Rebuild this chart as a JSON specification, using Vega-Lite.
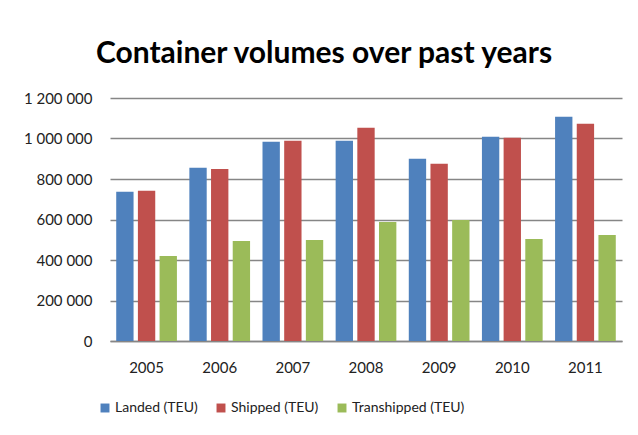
{
  "$schema": "https://vega.github.io/schema/vega-lite/v6.json",
  "width": 512,
  "height": 243,
  "autosize": {"type": "none"},
  "padding": {"left": 110, "top": 98, "right": 16, "bottom": 94},
  "background": "white",
  "config": {
    "locale": {"number": {"decimal": ",", "thousands": " ", "grouping": [3], "currency": ["", ""]}},
    "font": "Lato",
    "view": {"stroke": null}
  },
  "title": {
    "text": "Container volumes over past years",
    "font": "Lato",
    "fontSize": 30,
    "fontWeight": "bold",
    "color": "black",
    "anchor": "middle",
    "frame": "group",
    "dx": -42,
    "offset": 22
  },
  "data": {
    "values": [
      {"year": "2005", "series": "Landed (TEU)", "teu": 737000},
      {"year": "2005", "series": "Shipped (TEU)", "teu": 742000},
      {"year": "2005", "series": "Transhipped (TEU)", "teu": 420000},
      {"year": "2006", "series": "Landed (TEU)", "teu": 855000},
      {"year": "2006", "series": "Shipped (TEU)", "teu": 850000},
      {"year": "2006", "series": "Transhipped (TEU)", "teu": 494000},
      {"year": "2007", "series": "Landed (TEU)", "teu": 984000},
      {"year": "2007", "series": "Shipped (TEU)", "teu": 989000},
      {"year": "2007", "series": "Transhipped (TEU)", "teu": 499000},
      {"year": "2008", "series": "Landed (TEU)", "teu": 989000},
      {"year": "2008", "series": "Shipped (TEU)", "teu": 1053000},
      {"year": "2008", "series": "Transhipped (TEU)", "teu": 588000},
      {"year": "2009", "series": "Landed (TEU)", "teu": 900000},
      {"year": "2009", "series": "Shipped (TEU)", "teu": 875000},
      {"year": "2009", "series": "Transhipped (TEU)", "teu": 598000},
      {"year": "2010", "series": "Landed (TEU)", "teu": 1009000},
      {"year": "2010", "series": "Shipped (TEU)", "teu": 1004000},
      {"year": "2010", "series": "Transhipped (TEU)", "teu": 504000},
      {"year": "2011", "series": "Landed (TEU)", "teu": 1108000},
      {"year": "2011", "series": "Shipped (TEU)", "teu": 1073000},
      {"year": "2011", "series": "Transhipped (TEU)", "teu": 524000}
    ]
  },
  "mark": {"type": "bar"},
  "encoding": {
    "x": {
      "field": "year",
      "type": "nominal",
      "scale": {"paddingInner": 0.17, "paddingOuter": 0.085},
      "axis": {
        "title": null,
        "labelAngle": 0,
        "labelFontSize": 15,
        "labelColor": "#222",
        "labelPadding": 19,
        "ticks": false,
        "domainColor": "#868686",
        "domainWidth": 1.5
      }
    },
    "xOffset": {
      "field": "series",
      "type": "nominal",
      "scale": {"paddingInner": 0.2, "paddingOuter": 0}
    },
    "y": {
      "field": "teu",
      "type": "quantitative",
      "scale": {"domain": [0, 1200000], "nice": false},
      "axis": {
        "title": null,
        "values": [0, 200000, 400000, 600000, 800000, 1000000, 1200000],
        "format": ",d",
        "labelFontSize": 15,
        "labelColor": "#222",
        "labelPadding": 18,
        "ticks": false,
        "domain": false,
        "gridColor": "#868686",
        "gridWidth": 1.5
      }
    },
    "color": {
      "field": "series",
      "type": "nominal",
      "scale": {
        "domain": ["Landed (TEU)", "Shipped (TEU)", "Transhipped (TEU)"],
        "range": ["#4F81BD", "#C0504D", "#9BBB59"]
      },
      "legend": {
        "title": null,
        "orient": "none",
        "direction": "horizontal",
        "legendX": -12,
        "legendY": 303,
        "symbolType": "square",
        "symbolSize": 80,
        "symbolStrokeWidth": 0,
        "labelFontSize": 14,
        "labelColor": "#222",
        "labelOffset": 3,
        "columnPadding": 16
      }
    }
  }
}
